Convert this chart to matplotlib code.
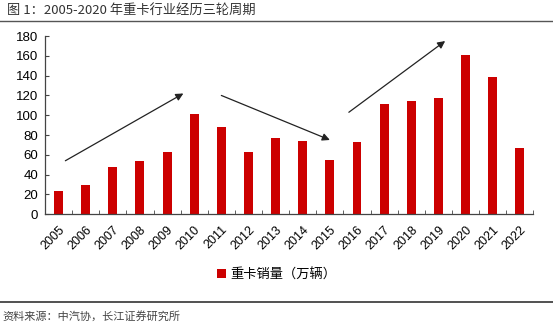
import matplotlib.pyplot as plt
import numpy as np

plt.rcParams['font.family'] = ['Liberation Sans', 'Noto Sans CJK SC', 'DejaVu Sans']

years = ['2005', '2006', '2007', '2008', '2009', '2010', '2011', '2012', '2013',
         '2014', '2015', '2016', '2017', '2018', '2019', '2020', '2021', '2022']
sales = [23.5, 30, 48, 54, 63, 101, 88, 63, 77, 74, 55, 73, 111, 114, 117, 161, 139, 67]
series_name = '重卡销量（万辆）'
title = '图 1：2005-2020 年重卡行业经历三轮周期'
source = '资料来源：中汽协，长江证券研究所'

# trend arrows (start, end) in data coordinates
trends = [((0.25, 54), (4.6, 122)),
          ((6.0, 120), (10.0, 75)),
          ((10.7, 103), (14.25, 175))]

fig = plt.figure(figsize=(5.53, 3.28), dpi=100)
ax = fig.add_axes([0.0814, 0.347, 0.883, 0.543])

x = np.arange(len(years))
ax.bar(x, sales, width=0.33, color='#CC0000', label=series_name, zorder=2)

for (x0, y0), (x1, y1) in trends:
    ax.annotate('', xy=(x1, y1), xytext=(x0, y0),
                arrowprops=dict(arrowstyle='-|>', color='#222222', lw=0.9,
                                mutation_scale=11, shrinkA=0, shrinkB=0))

ax.set_xlim(-0.5, len(years) - 0.5)
ax.set_ylim(0, 180)
ax.set_yticks(range(0, 181, 20))
ax.set_xticks(x)
ax.set_xticklabels(years, rotation=45, ha='right', va='top',
                   rotation_mode='anchor', fontsize=9)
ax.tick_params(axis='x', length=0, pad=7)
ax.set_xticks(np.arange(-0.5, len(years)), minor=True)
ax.tick_params(axis='x', which='minor', direction='in', length=3, color='#444444')
ax.tick_params(axis='y', direction='in', length=3, labelsize=9.5, color='#444444', pad=5)
for s in ['top', 'right']:
    ax.spines[s].set_visible(False)
for s in ['left', 'bottom']:
    ax.spines[s].set_color('#444444')
    ax.spines[s].set_linewidth(0.9)

fig.legend(loc='center', bbox_to_anchor=(0.5, 0.162), frameon=False, fontsize=9.5,
           handlelength=0.7, handleheight=0.7, handletextpad=0.3)

fig.text(0.012, 0.968, title, fontsize=9.5, color='#333333', va='center',
         family=['Noto Sans CJK SC'])
fig.add_artist(plt.Line2D([0.0, 1.0], [0.935, 0.935], color='#555555', lw=1.0))
fig.add_artist(plt.Line2D([0.0, 1.0], [0.08, 0.08], color='#333333', lw=1.2))
fig.text(0.005, 0.035, source, fontsize=8, color='#444444', va='center',
         family=['Noto Sans CJK SC'])

fig.savefig('out.png', dpi=100)
